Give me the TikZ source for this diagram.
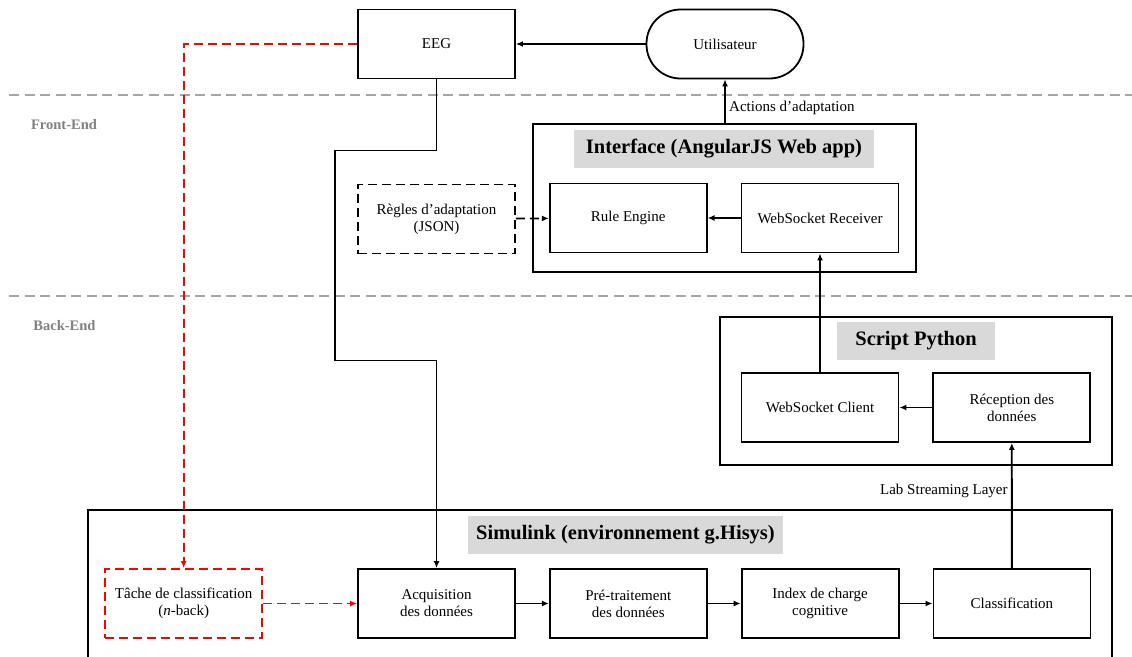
\documentclass[tikz,border=0pt]{standalone}
\usepackage{fontspec}
\setmainfont{Liberation Serif}
\usepackage{tikz}
\usetikzlibrary{arrows.meta,positioning}
\tikzstyle{block} = [rectangle, draw, line width=1.8pt, align=center,
                     minimum height=69pt, minimum width=157pt, inner sep=2pt,
                     font=\fontsize{15}{17}\selectfont]
\tikzstyle{container} = [rectangle, draw, line width=1.8pt]
\tikzstyle{title} = [rectangle, fill=gray!30, minimum height=38pt,
                     font=\fontsize{20.5}{22}\selectfont\bfseries]
\tikzstyle{arrow} = [-{Latex[length=7pt,width=6pt]}, line width=1.8pt]
\tikzstyle{dashline} = [dash pattern=on 9pt off 5pt]
\tikzstyle{layer} = [gray!70, line width=1.6pt, dash pattern=on 10pt off 5.5pt]
\tikzstyle{layerlabel} = [text=gray, font=\fontsize{14.5}{16}\selectfont\bfseries]

\begin{document}
\begin{tikzpicture}[x=1pt, y=-1pt]
    \clip (0,0) rectangle (1132,656);

    % couches
    \draw [layer] (9,95) -- (1132,95);
    \draw [layer] (9,296) -- (1132,296);
    \node [layerlabel] (front) at (64,125) {Front-End};
    \node [layerlabel] (back) at (64.5,326) {Back-End};

    % conteneurs
    \node [container, minimum width=383pt, minimum height=148pt] (iface) at (724.5,198) {};
    \node [container, minimum width=391.5pt, minimum height=148pt] (python) at (916,391) {};
    \node [container, minimum width=1024pt, minimum height=170pt] (simulink) at (600,595) {};
    \node [title, minimum width=300pt] (ifacetitle) at (724,149) {Interface (AngularJS Web app)};
    \node [title, minimum width=158pt] (pythontitle) at (916,341) {Script Python};
    \node [title, minimum width=315pt] (simtitle) at (625.5,535) {Simulink (environnement g.Hisys)};

    % blocs
    \node [block] (eeg) at (436.5,44) {EEG};
    \node [block, rounded corners=34pt] (user) at (725,44) {Utilisateur};
    \node [block, dashline] (rules) at (436.5,219) {Règles d’adaptation\\(JSON)};
    \node [block] (wsr) at (820,218) {WebSocket Receiver};
    \node [block, left=33pt of wsr] (rule) {Rule Engine};
    \node [block] (wsc) at (820,407.5) {WebSocket Client};
    \node [block, right=33pt of wsc] (rec) {Réception des\\données};
    \node [block] (acq) at (436.5,603.5) {Acquisition\\des données};
    \node [block, right=33pt of acq] (pre) {Pré-traitement\\des données};
    \node [block, right=33pt of pre] (idx) {Index de charge\\cognitive};
    \node [block, right=33pt of idx] (cls) {Classification};
    \node [block, draw=red, dashline, left=94pt of acq] (task) {Tâche de classification\\(\textit{n}-back)};

    % liens
    \draw [arrow] (user) -- (eeg);
    \draw [arrow] (user.south |- iface.north) -- node[right, pos=0.35]{\fontsize{15}{17}\selectfont Actions d’adaptation} (user.south);
    \draw [arrow] (wsr) -- (rule);
    \draw [arrow, dashline] (rules) -- (rule);
    \draw [arrow] (wsc) -- (wsr);
    \draw [arrow] (rec) -- (wsc);
    \draw [arrow] (cls) -- node[left, pos=0.62]{\fontsize{15}{17}\selectfont Lab Streaming Layer} (rec);
    \draw [arrow] (acq) -- (pre);
    \draw [arrow] (pre) -- (idx);
    \draw [arrow] (idx) -- (cls);
    \draw [arrow] (eeg.south) -- ++(0,71) -- ++(-101.5,0) -- ++(0,210) -- ++(101.5,0) -- (acq.north);
    \draw [arrow, red, dashline] (eeg.west) -| (task.north);
    \draw [arrow, red, dashline] (task) -- (acq);
  \end{tikzpicture}
\end{document}
